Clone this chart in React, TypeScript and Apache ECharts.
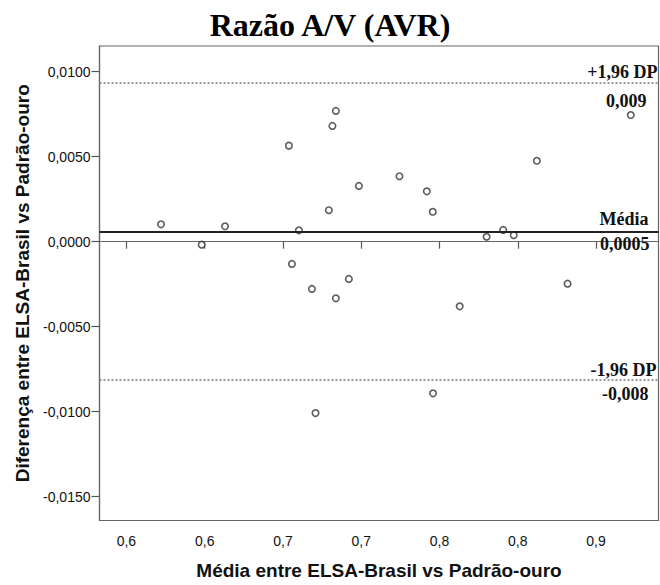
import React, { useEffect, useRef } from "react";
import * as echarts from "echarts";

const titleText = "Razão A/V (AVR)";
const xAxisName = "Média entre ELSA-Brasil vs Padrão-ouro";
const yAxisName = "Diferença entre ELSA-Brasil vs Padrão-ouro";

const meanX = [
  0.6221, 0.6481, 0.663, 0.7038, 0.7102, 0.7293, 0.7316, 0.7338, 0.7485,
  0.7744, 0.7919, 0.7957, 0.8301, 0.8407, 0.8474, 0.8622, 0.9222, 0.7057,
  0.7185, 0.7338, 0.7421, 0.7208, 0.8818, 0.8129, 0.7959,
];
const diffY = [
  0.00102, -0.000176, 0.000906, 0.00565, 0.00067, 0.00185, 0.00681, 0.00769,
  0.00328, 0.00385, 0.00296, 0.00176, 0.00029, 0.00069, 0.00038, 0.00476,
  0.00745, -0.00131, -0.00278, -0.00333, -0.00219, -0.01008, -0.00247,
  -0.0038, -0.00892,
];

const upperLimit = 0.00932;
const meanDiff = 0.000588;
const lowerLimit = -0.00815;

const upperLabels = ["+1,96 DP", "0,009"];
const meanLabels = ["Média", "0,0005"];
const lowerLabels = ["-1,96 DP", "-0,008"];

const xTickValues = [0.6, 0.65, 0.7, 0.75, 0.8, 0.85, 0.9];
const xTickLabels = ["0,6", "0,6", "0,7", "0,7", "0,8", "0,8", "0,9"];
const yTickValues = [-0.015, -0.01, -0.005, 0, 0.005, 0.01];

const X_MIN = 0.5828;
const X_MAX = 0.9399;
const Y_MIN = -0.0164;
const Y_MAX = 0.01151;

export default function App() {
  const ref = useRef<HTMLDivElement>(null);

  useEffect(() => {
    if (!ref.current) return;
    const chart = echarts.init(ref.current, null, { renderer: "svg" });
    const serif = "'Liberation Serif', 'Times New Roman', serif";
    const sans = "'Liberation Sans', Arial, sans-serif";
    const lblBase = {
      show: true,
      fontFamily: serif,
      fontWeight: "bold" as const,
      fontSize: 18,
      color: "#111",
      distance: 0,
    };
    const hidden = { color: "rgba(0,0,0,0)", width: 0, type: "solid" };
    const mk = (
      y: number,
      text: string,
      pos: string,
      pad: number[],
      visible: boolean,
      lineStyle: any
    ) => ({
      yAxis: y,
      lineStyle: visible ? lineStyle : hidden,
      label: { ...lblBase, formatter: text, position: pos, padding: pad },
    });
    const dotted = { color: "#777", width: 1.5, type: [2, 2] };
    const solid = { color: "#222", width: 2.2, type: "solid" };

    const data = meanX.map((x, i) => [x, diffY[i]]);

    chart.setOption({
      animation: false,
      title: {
        text: titleText,
        left: "center",
        top: 4,
        textStyle: {
          fontFamily: serif,
          fontWeight: "bold",
          fontSize: 32,
          color: "#000",
        },
      },
      grid: {
        left: 99.5,
        right: 1.5,
        top: 46,
        bottom: 64.5,
        show: true,
        borderColor: "#666",
        borderWidth: 1.2,
        backgroundColor: "transparent",
      },
      xAxis: {
        type: "value",
        min: X_MIN,
        max: X_MAX,
        name: xAxisName,
        nameLocation: "middle",
        nameGap: 40,
        nameTextStyle: {
          fontFamily: sans,
          fontWeight: "bold",
          fontSize: 19,
          color: "#111",
        },
        axisLine: { show: true, lineStyle: { color: "#666", width: 1.2 } },
        axisTick: {
          show: true,
          length: 7,
          customValues: xTickValues,
          lineStyle: { color: "#555", width: 1.2 },
        },
        axisLabel: {
          customValues: xTickValues,
          margin: 13,
          fontFamily: sans,
          fontSize: 14,
          color: "#111",
          formatter: (v: number) => {
            const idx = xTickValues.findIndex((t) => Math.abs(t - v) < 1e-6);
            return idx >= 0 ? xTickLabels[idx] : "";
          },
        },
        splitLine: { show: false },
      },
      yAxis: {
        type: "value",
        min: Y_MIN,
        max: Y_MAX,
        name: yAxisName,
        nameLocation: "middle",
        nameGap: 68,
        nameTextStyle: {
          fontFamily: sans,
          fontWeight: "bold",
          fontSize: 19,
          color: "#111",
        },
        axisLine: { show: true, lineStyle: { color: "#666", width: 1.2 } },
        axisTick: {
          show: true,
          length: 8,
          customValues: yTickValues,
          lineStyle: { color: "#555", width: 1.2 },
        },
        axisLabel: {
          customValues: yTickValues,
          margin: 9,
          fontFamily: sans,
          fontSize: 14,
          color: "#111",
          formatter: (v: number) => v.toFixed(4).replace(".", ","),
        },
        splitLine: { show: false },
      },
      series: [
        {
          type: "scatter",
          data,
          symbol: "circle",
          symbolSize: 6.5,
          itemStyle: { color: "#fff", borderColor: "#333", borderWidth: 1.6 },
          markLine: {
            silent: true,
            precision: 8,
            symbol: ["none", "none"],
            data: [
              mk(upperLimit, upperLabels[0], "insideEndTop", [0, 1, 2, 0], true, dotted),
              mk(upperLimit, upperLabels[1], "insideEndBottom", [9, 12, 0, 0], false, dotted),
              mk(meanDiff, meanLabels[0], "insideEndTop", [0, 10, 4, 0], true, solid),
              mk(meanDiff, meanLabels[1], "insideEndBottom", [3, 9, 0, 0], false, solid),
              mk(lowerLimit, lowerLabels[0], "insideEndTop", [0, 2, 1, 0], true, dotted),
              mk(lowerLimit, lowerLabels[1], "insideEndBottom", [5, 10, 0, 0], false, dotted),
            ],
          },
        },
      ],
    });
    return () => chart.dispose();
  }, []);

  return (
    <div
      ref={ref}
      style={{
        position: "fixed",
        left: 0,
        top: 0,
        width: 660,
        height: 585,
        background: "#fff",
      }}
    />
  );
}
